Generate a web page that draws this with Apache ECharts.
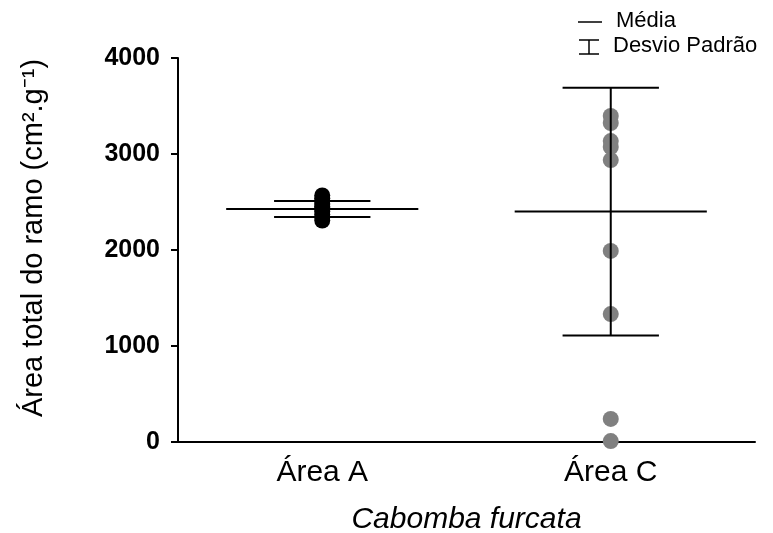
<!DOCTYPE html>
<html>
<head>
<meta charset="utf-8">
<script src="https://cdn.jsdelivr.net/npm/echarts@6/dist/echarts.min.js"></script>
<style>html,body{margin:0;padding:0;background:#fff}#chart{width:773px;height:533px}</style>
</head>
<body>
<div id="chart"></div>
<script>
var categories = ['Área A', 'Área C'];
var pointsA = [2568, 2540, 2510, 2480, 2450, 2430, 2400, 2370, 2340, 2307];
var pointsC = [3396, 3323, 3135, 3073, 2937, 1990, 1333, 240, 10];
var meanVals = [2427, 2400];
var sdVals = [83, 1290];
var yTicks = [0, 1000, 2000, 3000, 4000];

var FONT = '"Liberation Sans", Arial, Helvetica, sans-serif';
var chart = echarts.init(document.getElementById('chart'), null, {renderer: 'canvas'});

function toPairs(idx, arr) { return arr.map(function (v) { return [idx, v]; }); }

var option = {
  animation: false,
  grid: {left: 178, right: 18, top: 58, bottom: 91, containLabel: false, outerBoundsMode: 'none'},
  xAxis: {
    type: 'category',
    data: categories,
    boundaryGap: true,
    name: 'Cabomba furcata',
    nameLocation: 'middle',
    nameGap: 63,
    nameTextStyle: {fontFamily: FONT, fontStyle: 'italic', fontSize: 30, color: '#000'},
    axisLine: {lineStyle: {color: '#000', width: 2}},
    axisTick: {alignWithLabel: true, length: 6, lineStyle: {color: '#000', width: 2}},
    axisLabel: {fontFamily: FONT, fontSize: 30, color: '#000', margin: 16},
    splitLine: {show: false}
  },
  yAxis: {
    type: 'value',
    min: yTicks[0],
    max: yTicks[yTicks.length - 1],
    interval: 1000,
    name: 'Área total do ramo (cm².g⁻¹)',
    nameLocation: 'middle',
    nameGap: 130,
    nameTextStyle: {fontFamily: FONT, fontSize: 29, color: '#000', padding: [0, 0, 0, 24]},
    axisLine: {show: true, lineStyle: {color: '#000', width: 2}},
    axisTick: {show: true, length: 7, lineStyle: {color: '#000', width: 2}},
    axisLabel: {fontFamily: FONT, fontSize: 25, fontWeight: 'bold', color: '#000', margin: 18,
      formatter: function (v) { return String(v); }},
    splitLine: {show: false}
  },
  graphic: [
    {type: 'line', shape: {x1: 578, y1: 22, x2: 602, y2: 22}, style: {stroke: '#000', lineWidth: 1.5}},
    {type: 'line', shape: {x1: 579, y1: 40, x2: 599, y2: 40}, style: {stroke: '#000', lineWidth: 1.5}},
    {type: 'line', shape: {x1: 589, y1: 40, x2: 589, y2: 54}, style: {stroke: '#000', lineWidth: 1.5}},
    {type: 'line', shape: {x1: 579, y1: 54, x2: 599, y2: 54}, style: {stroke: '#000', lineWidth: 1.5}},
    {type: 'text', left: 616, top: 10, style: {text: 'Média', font: '22px ' + FONT, fill: '#000'}},
    {type: 'text', left: 613, top: 35, style: {text: 'Desvio Padrão', font: '22px ' + FONT, fill: '#000'}}
  ],
  series: [
    {
      type: 'scatter', name: 'Área A',
      data: toPairs(0, pointsA),
      symbol: 'circle', symbolSize: 16,
      itemStyle: {color: '#000', opacity: 1},
      z: 2
    },
    {
      type: 'scatter', name: 'Área C',
      data: toPairs(1, pointsC),
      symbol: 'circle', symbolSize: 16,
      itemStyle: {color: '#808080', opacity: 1},
      z: 2
    },
    {
      type: 'custom', name: 'Média / Desvio Padrão',
      data: categories.map(function (c, i) { return [i, meanVals[i], sdVals[i]]; }),
      renderItem: function (params, api) {
        var i = api.value(0), m = api.value(1), s = api.value(2);
        var band = api.size([1, 0])[0];
        var pm = api.coord([i, m]);
        var pu = api.coord([i, m + s]);
        var pl = api.coord([i, m - s]);
        var hm = band * 0.333, hc = band * 0.167;
        var st = {stroke: '#000', lineWidth: 2};
        return {
          type: 'group',
          children: [
            {type: 'line', shape: {x1: pm[0] - hm, y1: pm[1], x2: pm[0] + hm, y2: pm[1]}, style: st},
            {type: 'line', shape: {x1: pu[0], y1: pu[1], x2: pl[0], y2: pl[1]}, style: st},
            {type: 'line', shape: {x1: pu[0] - hc, y1: pu[1], x2: pu[0] + hc, y2: pu[1]}, style: st},
            {type: 'line', shape: {x1: pl[0] - hc, y1: pl[1], x2: pl[0] + hc, y2: pl[1]}, style: st}
          ]
        };
      },
      z: 3
    }
  ]
};
chart.setOption(option);
</script>
</body>
</html>
